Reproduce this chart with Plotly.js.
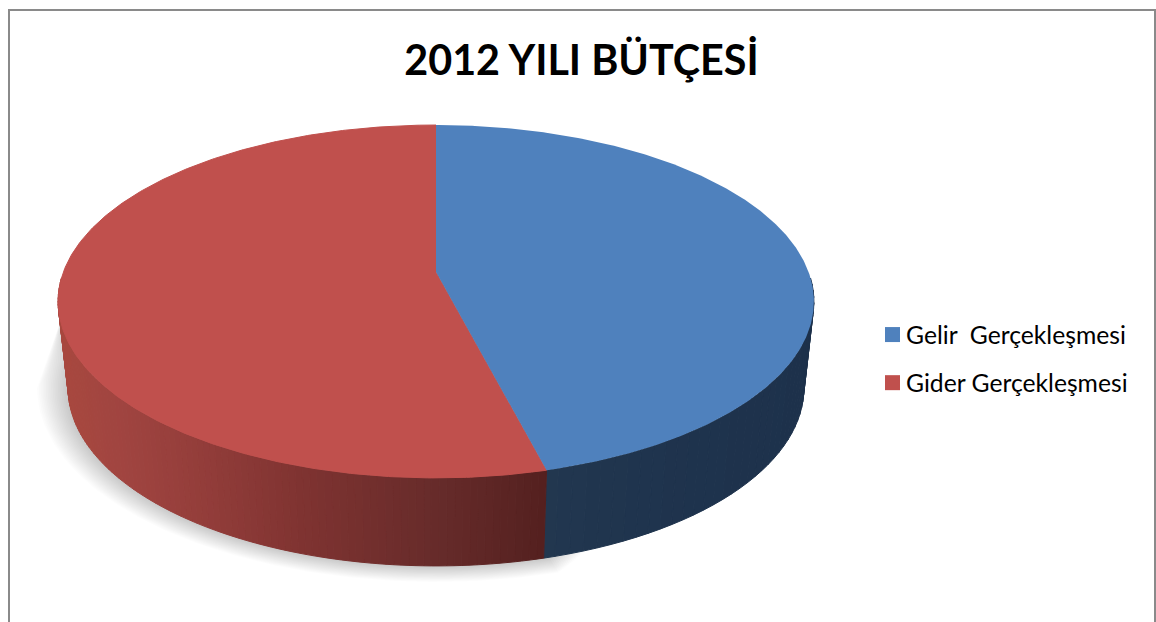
<!DOCTYPE html>
<html><head><meta charset="utf-8">
<script src="https://cdn.plot.ly/plotly-3.0.1.min.js"></script>
<style>html,body{margin:0;padding:0;background:#fff}#c{width:1156px;height:622px}</style>
</head><body><div id="c"></div>
<script>
const titleText = '2012 YILI BÜTÇESİ';
const categories = ['Gelir  Gerçekleşmesi', 'Gider Gerçekleşmesi'];
const shares = [46, 54];
const topColors = ['#4f81bd', '#c0504d'];

// Projected disc: perspective view of a circle
const cx = 436, vy = 272, persp = 0.167, py = -126.1, ax = 372.6;
const ellCy = 301.5, baseCy = 388, baseScaleX = 0.9735, baseScaleY = 1.0085;
const project = deg => {
  const t = deg * Math.PI / 180, X = Math.sin(t), Y = Math.cos(t), w = 1 + persp * Y;
  return [cx + ax * X / w, (py * Y + vy) / w];
};
const toBase = p => [cx + (p[0] - cx) * baseScaleX, baseCy + (p[1] - ellCy) * baseScaleY];

const hex = h => [1, 3, 5].map(i => parseInt(h.substr(i, 2), 16));
const ramp = (stops, x) => {
  let i = 0;
  while (i < stops.length - 2 && x > stops[i + 1][0]) i++;
  const [x0, c0] = stops[i], [x1, c1] = stops[i + 1];
  const f = Math.min(1, Math.max(0, (x - x0) / (x1 - x0)));
  const a = hex(c0), b = hex(c1);
  return 'rgb(' + a.map((v, k) => Math.round(v + (b[k] - v) * f)).join(',') + ')';
};
const redWall = [[58, '#a8483f'], [120, '#a04440'], [200, '#933d3a'], [300, '#7f3331'], [440, '#662b2a'], [547, '#54201f']];
const blueWall = [[547, '#22374f'], [640, '#1f344e'], [820, '#1d314b']];

const traces = [];
const poly = (pts, color, line) => traces.push({
  type: 'scatter', mode: 'lines', x: pts.map(p => p[0]), y: pts.map(p => p[1]),
  fill: 'toself', fillcolor: color, line: {color: line || color, width: line ? 1 : 0},
  hoverinfo: 'skip', showlegend: false
});

// Drop shadow on the lower left
const layers = 18;
for (let k = layers; k >= 1; k--) {
  const f = k / layers, pts = [[cx, baseCy]];
  const from = 156 + 6 * f, to = 285 - 15 * f;
  for (let t = from; t <= to; t += 1) {
    const a = t * Math.PI / 180;
    pts.push([cx + (368 + 31 * f) * Math.sin(a), baseCy - (178 + 16 * f) * Math.cos(a)]);
  }
  pts.push([60, 322]);
  pts.push([cx, baseCy]);
  poly(pts, 'rgba(0,0,0,0.0125)');
}

const boundary = 360 * shares[0] / (shares[0] + shares[1]);

// Side walls
const wall = (a0, a1, step, stops) => {
  for (let a = a0; a < a1 - 1e-6; a += step) {
    const b = Math.min(a + step, a1);
    const p = project(a), q = project(b), pb = toBase(p), qb = toBase(q);
    const col = ramp(stops, (p[0] + q[0]) / 2);
    poly([p, q, qb, pb, p], col, col);
  }
};
wall(92, boundary, 2, blueWall);
wall(boundary, 268, 1, redWall);

// Top faces
const face = (a0, a1, color, line) => {
  const pts = [[cx, vy]];
  for (let a = a0; a < a1; a += 0.5) pts.push(project(a));
  pts.push(project(a1));
  pts.push([cx, vy]);
  poly(pts, color, line);
};
face(boundary, 360, topColors[1], topColors[1]);
face(0, boundary, topColors[0]);

// Legend entries
categories.forEach((name, i) => traces.push({
  type: 'scatter', mode: 'markers', x: [null], y: [null], name,
  legendgroup: 'g' + i,
  marker: {symbol: 'square', size: 15, color: topColors[i]}, hoverinfo: 'skip'
}));

const layout = {
  width: 1156, height: 622, margin: {l: 0, r: 0, t: 0, b: 0},
  paper_bgcolor: '#ffffff', plot_bgcolor: 'rgba(0,0,0,0)',
  xaxis: {range: [0, 1156], visible: false, fixedrange: true},
  yaxis: {range: [622, 0], visible: false, fixedrange: true},
  title: {text: '<b>' + titleText + '</b>', x: 581.5 / 1156, xanchor: 'center', y: 1 - 61 / 622, yanchor: 'middle',
          font: {family: 'Lato', size: 41.3, color: '#000000'}},
  showlegend: true,
  legend: {x: 866 / 1156, xanchor: 'left', y: 1 - 312 / 622, yanchor: 'top', bgcolor: 'rgba(0,0,0,0)',
           tracegroupgap: 13, font: {family: 'Lato', size: 24.7, color: '#000000'}},
  shapes: [{type: 'rect', xref: 'x', yref: 'y', x0: 9, x1: 1155, y0: 10, y1: 640,
            line: {color: '#8a8a8a', width: 2}, fillcolor: 'rgba(0,0,0,0)', layer: 'below'}]
};
Plotly.newPlot('c', traces, layout, {displayModeBar: false, staticPlot: true}).then(gd => {
  gd.querySelectorAll('.legendpoints').forEach(g => g.setAttribute('transform', 'translate(6.5,0)'));
});
</script></body></html>
